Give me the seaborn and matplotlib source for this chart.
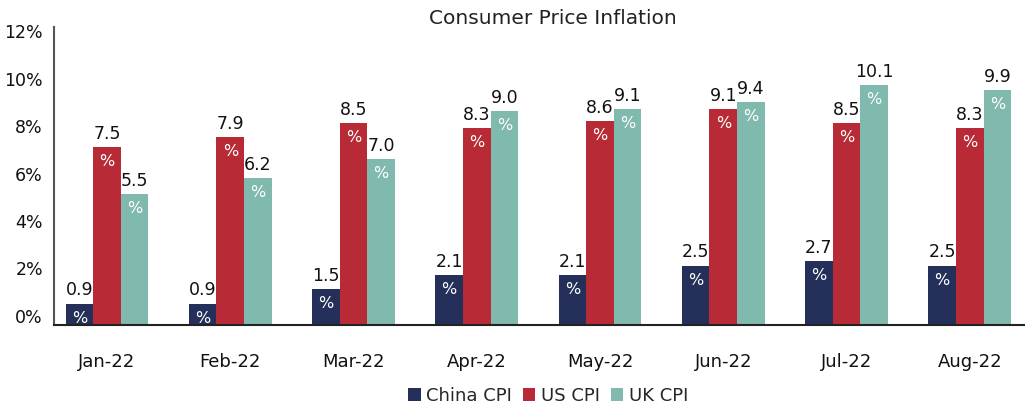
import pandas as pd
import matplotlib.pyplot as plt
import seaborn as sns

# Chart data
months = ['Jan-22', 'Feb-22', 'Mar-22', 'Apr-22', 'May-22', 'Jun-22', 'Jul-22', 'Aug-22']
china_cpi = [0.9, 0.9, 1.5, 2.1, 2.1, 2.5, 2.7, 2.5]
us_cpi = [7.5, 7.9, 8.5, 8.3, 8.6, 9.1, 8.5, 8.3]
uk_cpi = [5.5, 6.2, 7.0, 9.0, 9.1, 9.4, 10.1, 9.9]
series_names = ['China CPI', 'US CPI', 'UK CPI']
y_ticks = [0, 2, 4, 6, 8, 10, 12]

colors = ['#24305a', '#b82b36', '#80b9ae']

# Long-form table for seaborn
df = pd.DataFrame({
    'month': months * 3,
    'value': china_cpi + us_cpi + uk_cpi,
    'series': [s for s in series_names for _ in months],
})

sns.set_style('white')
plt.rcParams['font.family'] = ['DejaVu Sans']

fig = plt.figure(figsize=(10.25, 4.07), dpi=100)
ax = fig.add_axes([54 / 1025, 1 - 325 / 407, (1024 - 54) / 1025, (325 - 27) / 407])

sns.barplot(data=df, x='month', y='value', hue='series', order=months,
            hue_order=series_names, palette=colors, width=0.67, gap=0,
            linewidth=0, saturation=1, ax=ax, legend=True)

ax.set_xlim(-0.43, 7.44)
ax.set_ylim(0, 12.55)

# Value labels with the % sign inside the bar
for container in ax.containers:
    for bar in container:
        h = bar.get_height()
        xc = bar.get_x() + bar.get_width() / 2
        ax.annotate(f'{h:.1f}', (xc, h), xytext=(0, 3), textcoords='offset points',
                    ha='center', va='bottom', fontsize=12.5, color='#111111')
        ax.annotate('%', (xc, h), xytext=(0, -5), textcoords='offset points',
                    ha='center', va='top', fontsize=11.5, color='white')

# the original's axis labels sit slightly above the gridline values
label_shift = 0.38
ax.set_yticks([t + label_shift for t in y_ticks])
ax.set_yticklabels([f'{t}%' for t in y_ticks], fontsize=12.5)
ax.tick_params(axis='y', length=0, pad=8, labelcolor='#111111')
ax.tick_params(axis='x', length=0, pad=20, labelsize=13, labelcolor='#111111')

ax.set_xlabel('')
ax.set_ylabel('')
for side in ['top', 'right']:
    ax.spines[side].set_visible(False)
ax.spines['left'].set_color('#555555')
ax.spines['left'].set_linewidth(1.5)
ax.spines['bottom'].set_color('#222222')
ax.spines['bottom'].set_linewidth(1.5)

fig.text(553 / 1025, 1 - 18 / 407, 'Consumer Price Inflation', ha='center', va='center',
         fontsize=14.5, color='#222222')

handles, labels = ax.get_legend_handles_labels()
ax.legend(handles, labels, loc='center', bbox_to_anchor=(548 / 1025, 1 - 396 / 407),
          bbox_transform=fig.transFigure, ncol=3, frameon=False, fontsize=13,
          handlelength=0.7, handleheight=0.7, handletextpad=0.3, columnspacing=0.6)

fig.savefig('out.png', dpi=100)
